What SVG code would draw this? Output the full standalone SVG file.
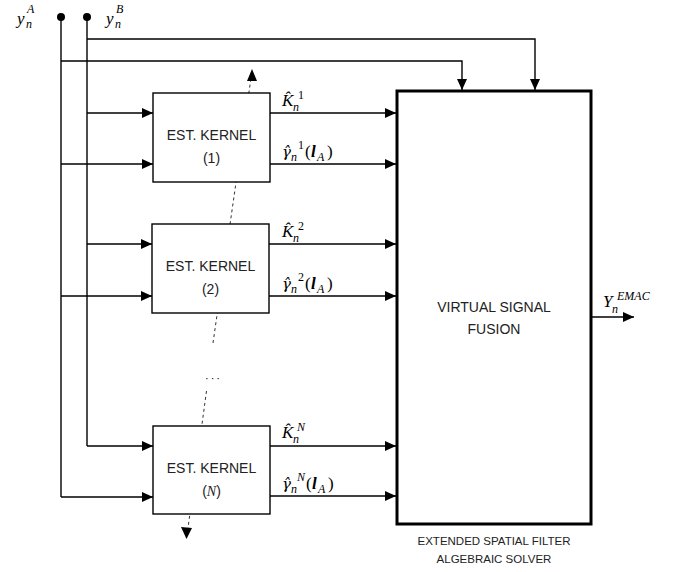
<svg xmlns="http://www.w3.org/2000/svg" width="683" height="572" viewBox="0 0 683 572">
<style>
.ln{fill:none;stroke:#000;stroke-width:1.4}
.box{fill:#fff;stroke:#000;stroke-width:1.4}
.big{fill:#fff;stroke:#000;stroke-width:3}
.dash{fill:none;stroke:#333;stroke-width:1;stroke-dasharray:3 3}
.t{font-family:"Liberation Sans",Arial,sans-serif;font-size:14px;fill:#222;text-anchor:middle}
.s{font-family:"Liberation Sans",Arial,sans-serif;font-size:11.5px;fill:#222;text-anchor:middle}
.m{font-family:"Liberation Serif","DejaVu Serif",serif;font-style:italic;font-size:17px;fill:#000}
.g{font-family:"DejaVu Serif",serif;font-size:15px}
.ms{font-family:"Liberation Serif","DejaVu Serif",serif;font-style:italic;font-size:12px}
.mu{font-family:"Liberation Serif","DejaVu Serif",serif;font-style:normal;font-size:12px}
.mr{font-family:"Liberation Serif","DejaVu Serif",serif;font-style:normal;font-size:17px}
.mb{font-family:"Liberation Serif","DejaVu Serif",serif;font-style:italic;font-weight:bold;font-size:17px}
</style>
<defs>
<marker id="ah" markerUnits="userSpaceOnUse" markerWidth="12" markerHeight="10" refX="11" refY="5" orient="auto">
<path d="M0,0 L11,5 L0,10 Z" fill="#000"/>
</marker>
</defs>

<g id="connectors">
<circle cx="61" cy="17" r="4" fill="#000"/>
<circle cx="87" cy="17" r="4" fill="#000"/>
<path class="ln" d="M61,17 V497"/>
<path class="ln" d="M87,17 V446"/>
<path class="ln" d="M87,39 H535 V90" marker-end="url(#ah)"/>
<path class="ln" d="M61,61 H462 V90" marker-end="url(#ah)"/>
<path class="ln" d="M87,113 H153" marker-end="url(#ah)"/>
<path class="ln" d="M61,164 H153" marker-end="url(#ah)"/>
<path class="ln" d="M87,244 H152" marker-end="url(#ah)"/>
<path class="ln" d="M61,296 H152" marker-end="url(#ah)"/>
<path class="ln" d="M87,446 H153" marker-end="url(#ah)"/>
<path class="ln" d="M61,497 H153" marker-end="url(#ah)"/>
<path class="ln" d="M270,113 H396" marker-end="url(#ah)"/>
<path class="ln" d="M270,164 H396" marker-end="url(#ah)"/>
<path class="ln" d="M269,244 H396" marker-end="url(#ah)"/>
<path class="ln" d="M269,296 H396" marker-end="url(#ah)"/>
<path class="ln" d="M270,446 H396" marker-end="url(#ah)"/>
<path class="ln" d="M270,496 H396" marker-end="url(#ah)"/>
<path class="ln" d="M591,317 H634" marker-end="url(#ah)"/>
<path class="dash" d="M213,343 L251,78"/>
<path d="M252,69 L247,81 L257,81 Z" fill="#000"/>
<path class="dash" d="M206.5,391 L188,528"/>
<path d="M186.5,539 L181,527 L192,528 Z" fill="#000"/>
<text x="213.5" y="382" class="t" style="font-size:11px;letter-spacing:2px;fill:#000">···</text>
</g>

<g id="kernel1">
<rect class="box" x="153" y="93" width="117" height="89"/>
<text class="t" x="211.5" y="140">EST. KERNEL</text>
<text class="t" x="211.5" y="163">(1)</text>
</g>
<g id="kernel2">
<rect class="box" x="152" y="224" width="117" height="89"/>
<text class="t" x="210.5" y="271">EST. KERNEL</text>
<text class="t" x="210.5" y="294">(2)</text>
</g>
<g id="kernelN">
<rect class="box" x="153" y="426" width="117" height="88"/>
<text class="t" x="211.5" y="473">EST. KERNEL</text>
<text class="t" x="211.5" y="496">(<tspan font-family="Liberation Serif,serif" font-style="italic">N</tspan>)</text>
</g>

<g id="fusion">
<rect class="big" x="397" y="91" width="194" height="433"/>
<text class="t" x="494" y="312">VIRTUAL SIGNAL</text>
<text class="t" x="494" y="334">FUSION</text>
<text class="s" x="494" y="545">EXTENDED SPATIAL FILTER</text>
<text class="s" x="494" y="563">ALGEBRAIC SOLVER</text>
</g>

<g id="labels">
<text class="m" x="17" y="24">y<tspan class="ms" x="26" dy="4">n</tspan><tspan class="ms" x="27" dy="-15">A</tspan></text>
<text class="m" x="106" y="24">y<tspan class="ms" x="115" dy="4">n</tspan><tspan class="ms" x="116" dy="-15">B</tspan></text>

<text class="m" x="282" y="106">K̂<tspan class="ms" x="293" dy="5">n</tspan><tspan class="mu" x="298" dy="-12">1</tspan></text>
<text class="m" x="282" y="157"><tspan class="g">γ̂</tspan><tspan class="ms" x="291" dy="4">n</tspan><tspan class="mu" x="298" dy="-12">1</tspan><tspan class="mr" x="305" dy="8">(</tspan><tspan class="mb" x="311">l</tspan><tspan class="ms" x="317" dy="4">A</tspan><tspan class="mr" x="327" dy="-4">)</tspan></text>

<text class="m" x="282" y="237">K̂<tspan class="ms" x="293" dy="5">n</tspan><tspan class="mu" x="298" dy="-12">2</tspan></text>
<text class="m" x="282" y="289"><tspan class="g">γ̂</tspan><tspan class="ms" x="291" dy="4">n</tspan><tspan class="mu" x="298" dy="-12">2</tspan><tspan class="mr" x="305" dy="8">(</tspan><tspan class="mb" x="311">l</tspan><tspan class="ms" x="317" dy="4">A</tspan><tspan class="mr" x="327" dy="-4">)</tspan></text>

<text class="m" x="282" y="438">K̂<tspan class="ms" x="293" dy="5">n</tspan><tspan class="ms" x="297" dy="-12">N</tspan></text>
<text class="m" x="282" y="489"><tspan class="g">γ̂</tspan><tspan class="ms" x="291" dy="4">n</tspan><tspan class="ms" x="297" dy="-12">N</tspan><tspan class="mr" x="306" dy="8">(</tspan><tspan class="mb" x="312">l</tspan><tspan class="ms" x="318" dy="4">A</tspan><tspan class="mr" x="328" dy="-4">)</tspan></text>

<text class="m" x="603" y="307">Y<tspan class="ms" x="612" dy="6">n</tspan><tspan class="ms" x="617" dy="-13">EMAC</tspan></text>
</g>
</svg>
